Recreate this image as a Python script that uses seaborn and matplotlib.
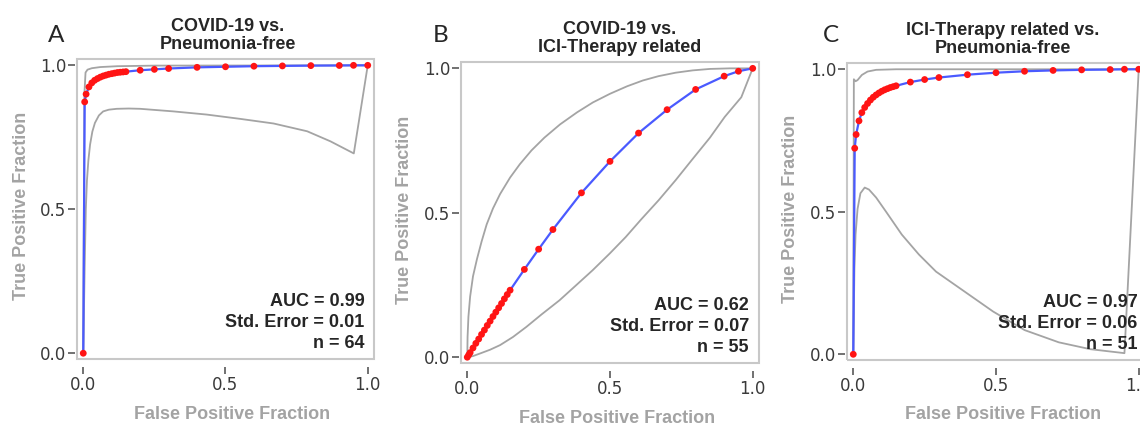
import matplotlib
matplotlib.use("Agg")
import matplotlib.pyplot as plt
from matplotlib.patches import Rectangle
import seaborn as sns

# shared false-positive grid for the fitted ROC points
FPR_POINTS = [0.0, 0.005, 0.01, 0.02, 0.03, 0.04, 0.05, 0.06, 0.07, 0.08, 0.09,
              0.10, 0.11, 0.12, 0.13, 0.14, 0.15, 0.2, 0.25, 0.3, 0.4, 0.5,
              0.6, 0.7, 0.8, 0.9, 0.95, 1.0]

TPR_A = [0.0, 0.873, 0.900, 0.925, 0.939, 0.948, 0.954, 0.959, 0.963, 0.966,
         0.969, 0.971, 0.973, 0.975, 0.976, 0.977, 0.978, 0.983, 0.986, 0.989,
         0.993, 0.995, 0.997, 0.998, 0.999, 0.9995, 1.0, 1.0]
TPR_B = [0.0, 0.008, 0.016, 0.032, 0.048, 0.063, 0.079, 0.094, 0.110, 0.125,
         0.141, 0.156, 0.171, 0.186, 0.202, 0.217, 0.232, 0.304, 0.374, 0.442,
         0.569, 0.678, 0.776, 0.857, 0.927, 0.973, 0.990, 1.0]
TPR_C = [0.0, 0.723, 0.771, 0.819, 0.848, 0.866, 0.880, 0.892, 0.902, 0.910,
         0.917, 0.923, 0.928, 0.932, 0.936, 0.939, 0.942, 0.955, 0.964, 0.971,
         0.981, 0.988, 0.993, 0.996, 0.998, 0.999, 1.0, 1.0]

# confidence bands (upper / lower)
UP_A_X = [0.0, 0.004, 0.008, 0.015, 0.03, 0.06, 0.12, 0.25, 1.0]
UP_A_Y = [0.0, 0.90, 0.975, 0.985, 0.990, 0.994, 0.997, 0.999, 1.0]
LO_A_X = [0.0, 0.005, 0.009, 0.013, 0.018, 0.024, 0.032, 0.041, 0.055, 0.07,
          0.09, 0.118, 0.16, 0.2, 0.317, 0.434, 0.552, 0.669, 0.787, 0.869,
          0.951, 1.0]
LO_A_Y = [0.0, 0.30, 0.50, 0.60, 0.67, 0.725, 0.77, 0.80, 0.826, 0.84,
          0.846, 0.849, 0.85, 0.849, 0.84, 0.829, 0.814, 0.798, 0.771, 0.736,
          0.694, 1.0]

UP_B_X = [0.0, 0.001, 0.004, 0.01, 0.02, 0.034, 0.05, 0.068, 0.09, 0.115,
          0.15, 0.184, 0.225, 0.27, 0.325, 0.385, 0.44, 0.5, 0.56, 0.615,
          0.67, 0.73, 0.79, 0.85, 0.92, 1.0]
UP_B_Y = [0.0, 0.07, 0.14, 0.21, 0.28, 0.34, 0.40, 0.46, 0.515, 0.565,
          0.622, 0.668, 0.716, 0.76, 0.806, 0.848, 0.882, 0.912, 0.938, 0.958,
          0.973, 0.985, 0.993, 0.998, 1.0, 1.0]
LO_B_X = [0.0, 0.02, 0.045, 0.08, 0.115, 0.16, 0.207, 0.26, 0.323, 0.38,
          0.439, 0.5, 0.555, 0.61, 0.67, 0.73, 0.786, 0.85, 0.902, 0.96, 1.0]
LO_B_Y = [0.0, 0.004, 0.013, 0.026, 0.042, 0.07, 0.105, 0.148, 0.197, 0.248,
          0.301, 0.36, 0.416, 0.478, 0.543, 0.613, 0.682, 0.76, 0.832, 0.90,
          1.0]

UP_C_X = [0.0, 0.002, 0.008, 0.015, 0.03, 0.05, 0.08, 0.15, 1.0]
UP_C_Y = [0.0, 0.965, 0.958, 0.962, 0.980, 0.992, 0.998, 1.0, 1.0]
LO_C_X = [0.0, 0.004, 0.008, 0.015, 0.025, 0.04, 0.055, 0.08, 0.115, 0.17,
          0.23, 0.29, 0.37, 0.49, 0.6, 0.72, 0.83, 0.95, 1.0]
LO_C_Y = [0.0, 0.30, 0.42, 0.51, 0.565, 0.585, 0.578, 0.55, 0.50, 0.42,
          0.35, 0.29, 0.234, 0.15, 0.085, 0.042, 0.018, 0.004, 1.0]

LETTERS = ["A", "B", "C"]
TITLES = ["COVID-19 vs.\nPneumonia-free",
          "COVID-19 vs.\nICI-Therapy related",
          "ICI-Therapy related vs.\nPneumonia-free"]
AUC = [0.99, 0.62, 0.97]
STD_ERR = [0.01, 0.07, 0.06]
N_CASES = [64, 55, 51]
TICK_VALUES = [0.0, 0.5, 1.0]
TICK_LABELS = ["0.0", "0.5", "1.0"]

W, H = 1140, 425
# axes frames in pixels: left, top, right, bottom
FRAMES = [(77, 59, 374, 359), (461, 62, 759, 363), (847, 63, 1145, 360)]
TITLE_X = [0.508, 0.532, 0.523]
STATS_X = [0.968, 0.966, 0.975]
LETTER_X = [48, 433, 823]

GRAY = "#a4a4a4"
BLUE = "#4a5aff"
RED = "#ff1414"

sns.set_style("white")
plt.rcParams["font.family"] = ["Liberation Sans", "DejaVu Sans"]

fig = plt.figure(figsize=(W / 100, H / 100), dpi=100)

tprs = [TPR_A, TPR_B, TPR_C]
bands = [(UP_A_X, UP_A_Y, LO_A_X, LO_A_Y),
         (UP_B_X, UP_B_Y, LO_B_X, LO_B_Y),
         (UP_C_X, UP_C_Y, LO_C_X, LO_C_Y)]

for i in range(3):
    l, t, r, b = FRAMES[i]
    ax = fig.add_axes([l / W, (H - b) / H, (r - l) / W, (b - t) / H])

    ux, uy, lx, ly = bands[i]
    sns.lineplot(x=ux, y=uy, ax=ax, color=GRAY, linewidth=1.3,
                 sort=False, estimator=None)
    sns.lineplot(x=lx, y=ly, ax=ax, color=GRAY, linewidth=1.3,
                 sort=False, estimator=None)
    sns.lineplot(x=FPR_POINTS, y=tprs[i], ax=ax, color=BLUE, linewidth=1.6,
                 sort=False, estimator=None)
    sns.scatterplot(x=FPR_POINTS, y=tprs[i], ax=ax, color=RED, s=24,
                    edgecolor="none", zorder=4)

    ax.set_xlim(-0.022, 1.022)
    ax.set_ylim(-0.02, 1.022)
    ax.set_xticks(TICK_VALUES)
    ax.set_yticks(TICK_VALUES)
    ax.set_xticklabels(TICK_LABELS)
    ax.set_yticklabels(TICK_LABELS)
    ax.set_xlabel("")
    ax.set_ylabel("")

    for sp in ax.spines.values():
        sp.set_visible(False)
    ax.spines["left"].set_position(("outward", 1.5))
    ax.spines["bottom"].set_position(("outward", 6))
    ax.tick_params(axis="both", direction="out", length=5, width=1.1,
                   color="#4a4a4a", left=True, bottom=True,
                   labelsize=12, labelcolor="#3a3a3a",
                   labelfontfamily="DejaVu Sans")
    ax.tick_params(axis="x", pad=1.5)
    ax.tick_params(axis="y", pad=1)

    ax.add_patch(Rectangle((0, 0), 1, 1, transform=ax.transAxes, fill=False,
                           edgecolor="#c8c8c8", linewidth=1.5, clip_on=False,
                           zorder=5))

    ax.annotate(TITLES[i], xy=(TITLE_X[i], 1.0), xycoords="axes fraction",
                xytext=(0, 4), textcoords="offset points", ha="center",
                va="bottom", fontsize=13, fontweight="bold", linespacing=1.1)

    # va="baseline" on multi-line text anchors the last line
    stats = f"AUC = {AUC[i]:.2f}\nStd. Error = {STD_ERR[i]:.2f}\nn = {N_CASES[i]}"
    ax.text(STATS_X[i], 0.037, stats, transform=ax.transAxes, ha="right",
            va="baseline", multialignment="right", fontsize=13,
            fontweight="bold", linespacing=1.3)

    ax.text(-0.188, 0.51, "True Positive Fraction", transform=ax.transAxes,
            rotation=90, ha="center", va="center", fontsize=13,
            fontweight="bold", color="#a3a3a3")
    ax.text(0.523, -0.2, "False Positive Fraction", transform=ax.transAxes,
            ha="center", va="baseline", fontsize=13, fontweight="bold",
            color="#a3a3a3")

    fig.text(LETTER_X[i] / W, 1 - 42 / H, LETTERS[i], ha="left", va="baseline",
             fontsize=17.5, family=["Lato", "DejaVu Sans"])

fig.savefig("out.png", dpi=100, facecolor="white")
